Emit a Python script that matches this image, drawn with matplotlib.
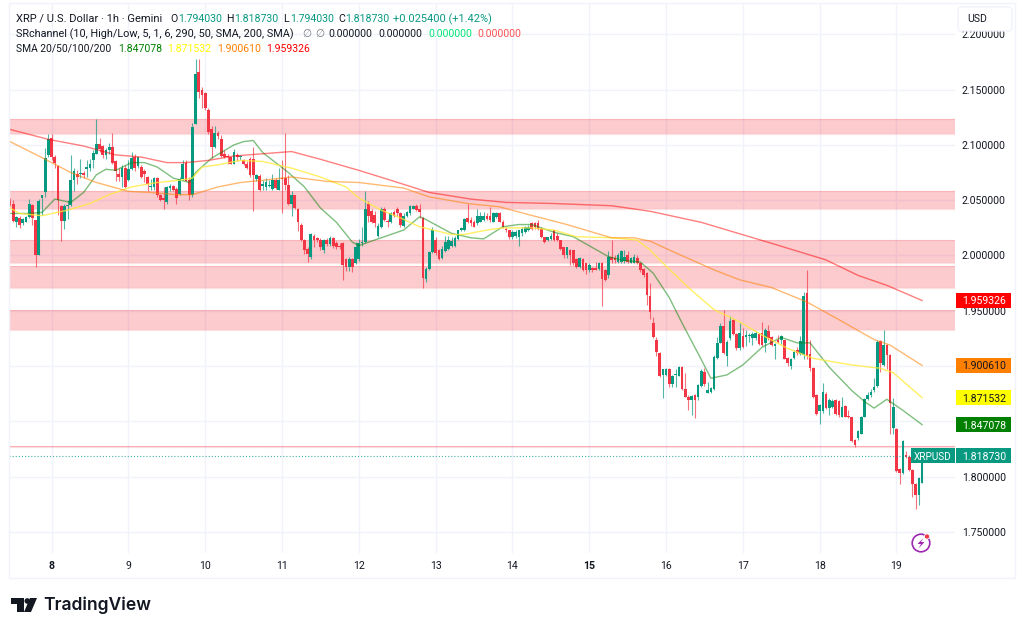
import numpy as np
import matplotlib
matplotlib.use("Agg")
import matplotlib.pyplot as plt
from matplotlib.patches import Rectangle, Circle, Polygon, FancyBboxPatch
from matplotlib.transforms import blended_transform_factory

plt.rcParams['font.family'] = ['Roboto', 'DejaVu Sans']

# hourly candles
opens = [
    2.049,2.047,2.030,2.034,2.029,2.030,2.035,2.046,2.032,2.000,
    2.052,2.057,2.091,2.106,2.089,2.081,2.045,2.031,2.045,2.046,
    2.068,2.074,2.074,2.075,2.078,2.079,2.086,2.092,2.101,2.099,
    2.091,2.095,2.098,2.085,2.074,2.071,2.079,2.068,2.078,2.089,
    2.081,2.080,2.076,2.071,2.062,2.062,2.070,2.055,2.052,2.048,
    2.061,2.063,2.060,2.056,2.069,2.084,2.068,2.055,2.119,2.166,
    2.150,2.147,2.132,2.114,2.098,2.111,2.105,2.092,2.090,2.089,
    2.083,2.091,2.089,2.086,2.083,2.087,2.087,2.069,2.072,2.063,
    2.062,2.063,2.060,2.068,2.059,2.070,2.070,2.064,2.047,2.055,
    2.042,2.028,2.014,2.006,1.999,2.018,2.016,2.014,2.005,2.014,
    2.010,2.016,2.011,2.009,2.011,1.997,1.990,1.997,1.993,1.997,
    2.011,2.012,2.047,2.040,2.037,2.018,2.026,2.042,2.031,2.030,
    2.039,2.042,2.038,2.027,2.036,2.038,2.042,2.045,2.042,2.034,
    1.979,1.988,2.003,2.014,2.005,1.998,2.004,2.006,2.009,2.009,
    2.015,2.023,2.023,2.034,2.032,2.030,2.029,2.030,2.032,2.036,
    2.036,2.030,2.035,2.038,2.030,2.024,2.023,2.017,2.018,2.017,
    2.020,2.021,2.023,2.029,2.029,2.029,2.024,2.017,2.014,2.015,
    2.023,2.018,2.014,2.008,2.000,2.005,2.005,1.997,1.990,1.997,
    1.993,1.987,1.989,1.989,1.988,1.993,1.987,1.982,1.999,1.998,
    1.994,1.994,1.995,2.000,1.993,1.993,1.998,1.993,1.988,1.984,
    1.963,1.939,1.924,1.912,1.892,1.892,1.897,1.884,1.892,1.891,
    1.899,1.879,1.872,1.869,1.874,1.872,1.882,1.895,1.876,1.877,
    1.879,1.907,1.921,1.936,1.909,1.925,1.942,1.929,1.916,1.927,
    1.926,1.927,1.925,1.925,1.929,1.930,1.921,1.932,1.926,1.918,
    1.924,1.924,1.924,1.907,1.900,1.907,1.915,1.911,1.910,1.966,
    1.911,1.898,1.874,1.859,1.859,1.875,1.862,1.863,1.869,1.868,
    1.854,1.864,1.855,1.854,1.833,1.835,1.839,1.854,1.870,1.874,
    1.878,1.882,1.923,1.901,1.919,1.910,1.844,1.843,1.807,1.803,
    1.820,1.818,1.806,1.793,1.783,1.79403]
closes = [
    2.046,2.031,2.035,2.028,2.033,2.035,2.047,2.034,2.000,2.049,
    2.055,2.088,2.105,2.089,2.084,2.050,2.031,2.045,2.046,2.068,
    2.076,2.071,2.074,2.073,2.080,2.083,2.093,2.101,2.096,2.091,
    2.095,2.098,2.084,2.076,2.071,2.079,2.062,2.078,2.088,2.079,
    2.089,2.071,2.074,2.065,2.062,2.070,2.055,2.050,2.050,2.062,
    2.063,2.059,2.052,2.069,2.083,2.067,2.055,2.116,2.164,2.148,
    2.145,2.133,2.112,2.098,2.111,2.108,2.090,2.089,2.089,2.083,
    2.094,2.089,2.089,2.083,2.079,2.073,2.073,2.073,2.059,2.065,
    2.066,2.064,2.068,2.061,2.068,2.069,2.064,2.047,2.055,2.043,
    2.030,2.014,2.005,2.001,2.019,2.014,2.014,2.008,2.014,2.010,
    2.016,2.009,2.008,2.008,1.991,1.990,1.997,1.990,2.008,2.011,
    2.012,2.042,2.036,2.030,2.029,2.027,2.042,2.032,2.030,2.038,
    2.036,2.038,2.028,2.036,2.039,2.045,2.045,2.041,2.039,1.980,
    1.988,2.003,2.023,2.002,1.997,2.006,2.012,2.014,2.013,2.016,
    2.023,2.025,2.033,2.030,2.029,2.026,2.036,2.036,2.036,2.033,
    2.032,2.038,2.038,2.030,2.026,2.023,2.017,2.021,2.021,2.023,
    2.024,2.026,2.026,2.024,2.026,2.024,2.017,2.012,2.017,2.018,
    2.014,2.014,2.006,2.000,2.008,2.000,1.993,1.990,1.998,1.987,
    1.987,1.991,1.987,1.987,1.993,1.979,1.978,1.999,1.996,1.996,
    2.000,2.004,1.999,1.994,1.998,1.999,1.993,1.987,1.982,1.964,
    1.949,1.926,1.913,1.891,1.897,1.897,1.884,1.891,1.892,1.899,
    1.879,1.872,1.869,1.873,1.869,1.883,1.896,1.884,1.878,1.880,
    1.908,1.921,1.936,1.912,1.922,1.941,1.929,1.916,1.930,1.917,
    1.928,1.927,1.929,1.930,1.920,1.919,1.933,1.925,1.919,1.920,
    1.922,1.927,1.906,1.903,1.906,1.913,1.912,1.923,1.963,1.909,
    1.898,1.872,1.857,1.865,1.877,1.862,1.869,1.868,1.857,1.856,
    1.863,1.854,1.854,1.832,1.829,1.841,1.854,1.870,1.874,1.877,
    1.881,1.922,1.903,1.919,1.910,1.867,1.863,1.805,1.803,1.832,
    1.818,1.806,1.793,1.783,1.799,1.81873]
highs = [
    2.052,2.050,2.036,2.036,2.034,2.036,2.051,2.047,2.032,2.051,
    2.055,2.097,2.110,2.110,2.091,2.082,2.046,2.047,2.050,2.091,
    2.079,2.077,2.087,2.076,2.086,2.087,2.095,2.123,2.106,2.100,
    2.097,2.102,2.111,2.086,2.079,2.082,2.082,2.086,2.094,2.092,
    2.089,2.082,2.078,2.072,2.069,2.071,2.071,2.056,2.062,2.063,
    2.065,2.064,2.062,2.071,2.086,2.086,2.071,2.120,2.178,2.178,
    2.152,2.148,2.133,2.117,2.117,2.113,2.109,2.095,2.092,2.089,
    2.096,2.093,2.091,2.087,2.085,2.089,2.098,2.074,2.074,2.068,
    2.070,2.068,2.074,2.070,2.079,2.086,2.111,2.073,2.058,2.055,
    2.043,2.029,2.015,2.008,2.020,2.019,2.017,2.016,2.015,2.016,
    2.018,2.017,2.013,2.011,2.012,1.998,1.999,1.998,2.012,2.015,
    2.026,2.058,2.049,2.042,2.040,2.029,2.044,2.044,2.033,2.039,
    2.041,2.044,2.039,2.038,2.040,2.046,2.046,2.047,2.047,2.035,
    1.990,2.004,2.026,2.017,2.006,2.009,2.018,2.018,2.017,2.018,
    2.023,2.026,2.034,2.047,2.035,2.032,2.042,2.039,2.039,2.038,
    2.044,2.039,2.039,2.039,2.032,2.026,2.023,2.023,2.023,2.023,
    2.026,2.027,2.028,2.030,2.030,2.032,2.026,2.017,2.017,2.020,
    2.023,2.020,2.014,2.008,2.008,2.006,2.005,1.998,1.999,1.998,
    1.993,1.993,1.990,1.994,1.994,1.994,1.988,2.004,2.014,2.000,
    2.002,2.005,2.005,2.004,1.999,2.001,2.000,1.994,1.989,1.985,
    1.975,1.944,1.926,1.913,1.897,1.898,1.898,1.892,1.897,1.900,
    1.900,1.894,1.874,1.874,1.875,1.884,1.897,1.898,1.886,1.881,
    1.910,1.926,1.939,1.951,1.924,1.945,1.943,1.930,1.939,1.934,
    1.933,1.930,1.931,1.932,1.930,1.940,1.934,1.937,1.927,1.921,
    1.928,1.928,1.924,1.908,1.907,1.915,1.917,1.927,1.967,1.987,
    1.924,1.899,1.875,1.866,1.885,1.877,1.871,1.870,1.870,1.869,
    1.872,1.865,1.860,1.854,1.834,1.842,1.855,1.871,1.877,1.879,
    1.889,1.924,1.924,1.933,1.920,1.911,1.871,1.844,1.808,1.833,
    1.823,1.820,1.807,1.794,1.800,1.81873]
lows = [
    2.045,2.030,2.026,2.025,2.028,2.030,2.034,2.028,1.990,2.000,
    2.037,2.053,2.089,2.086,2.079,2.037,2.013,2.024,2.033,2.045,
    2.058,2.065,2.070,2.070,2.071,2.076,2.079,2.092,2.094,2.088,
    2.087,2.092,2.083,2.067,2.067,2.062,2.061,2.067,2.077,2.076,
    2.079,2.070,2.066,2.058,2.059,2.059,2.053,2.049,2.042,2.047,
    2.058,2.058,2.047,2.055,2.068,2.067,2.050,2.053,2.119,2.142,
    2.133,2.132,2.110,2.088,2.097,2.105,2.089,2.088,2.083,2.083,
    2.083,2.085,2.086,2.082,2.078,2.071,2.040,2.067,2.058,2.059,
    2.059,2.062,2.059,2.060,2.059,2.038,2.059,2.046,2.036,2.042,
    2.022,2.013,2.001,1.994,1.997,2.008,2.012,2.005,2.002,2.009,
    2.009,2.007,2.006,2.006,1.978,1.986,1.986,1.985,1.992,1.995,
    2.009,2.011,2.030,2.029,2.026,2.017,2.025,2.031,2.026,2.029,
    2.035,2.036,2.026,2.026,2.035,2.037,2.042,2.040,2.034,1.971,
    1.976,1.987,2.002,2.000,1.996,1.997,2.003,2.005,2.008,2.008,
    2.014,2.022,2.022,2.029,2.027,2.026,2.028,2.030,2.031,2.032,
    2.030,2.030,2.034,2.030,2.025,2.021,2.015,2.015,2.016,2.009,
    2.018,2.020,2.022,2.023,2.024,2.023,2.016,2.011,2.013,2.014,
    2.013,2.013,2.005,1.998,1.998,1.991,1.991,1.989,1.989,1.986,
    1.983,1.985,1.985,1.987,1.987,1.954,1.977,1.980,1.993,1.993,
    1.993,1.993,1.993,1.993,1.993,1.993,1.992,1.985,1.981,1.955,
    1.943,1.925,1.909,1.890,1.871,1.891,1.881,1.881,1.881,1.891,
    1.878,1.872,1.860,1.856,1.853,1.869,1.881,1.882,1.876,1.876,
    1.878,1.906,1.921,1.911,1.900,1.924,1.928,1.915,1.915,1.916,
    1.918,1.922,1.919,1.924,1.919,1.918,1.913,1.924,1.918,1.906,
    1.921,1.920,1.906,1.900,1.897,1.906,1.910,1.910,1.906,1.906,
    1.896,1.871,1.856,1.848,1.858,1.861,1.856,1.862,1.856,1.854,
    1.854,1.854,1.853,1.831,1.827,1.833,1.839,1.854,1.869,1.872,
    1.877,1.881,1.895,1.900,1.897,1.839,1.839,1.804,1.793,1.802,
    1.817,1.805,1.782,1.771,1.774,1.79403]

# moving averages: (hour index, price) read at the visible bends
sma20_x = [0,6,10,14,19,23,27,30,33,38,42,46,51,56,58,63,70,73,76,79,87,92,97,102,107,109,114,123,128,129,138,144,148,154,159,163,170,176,187,191,197,201,206,210,216,219,224,229,235,241,246,250,256,263,267,270,274,279,285]
sma20_y = [2.038,2.038,2.039,2.051,2.048,2.057,2.073,2.078,2.077,2.084,2.084,2.080,2.070,2.066,2.075,2.088,2.100,2.103,2.104,2.093,2.075,2.062,2.043,2.030,2.012,2.009,2.014,2.023,2.035,2.034,2.020,2.016,2.015,2.026,2.028,2.028,2.021,2.017,1.999,1.996,1.994,1.984,1.962,1.939,1.906,1.889,1.892,1.901,1.917,1.926,1.921,1.921,1.899,1.878,1.868,1.862,1.870,1.860,1.847078]
sma50_x = [0,3,10,18,25,31,38,46,53,57,60,65,72,79,88,97,105,109,116,122,128,138,142,149,154,163,170,177,188,196,200,203,212,220,228,235,243,251,263,272,276,285]
sma50_y = [2.043,2.038,2.036,2.041,2.047,2.055,2.062,2.066,2.068,2.070,2.080,2.082,2.086,2.085,2.079,2.071,2.062,2.052,2.041,2.034,2.026,2.019,2.019,2.023,2.025,2.025,2.023,2.017,2.016,2.014,2.005,1.996,1.971,1.951,1.940,1.928,1.916,1.907,1.901,1.898,1.894,1.871532]
sma100_x = [0,11,19,27,37,44,52,57,65,72,79,88,99,109,123,131,143,153,162,174,188,195,200,206,213,220,228,238,249,259,270,275,285]
sma100_y = [2.103,2.087,2.075,2.066,2.058,2.057,2.055,2.055,2.062,2.066,2.068,2.071,2.067,2.066,2.061,2.053,2.047,2.044,2.037,2.028,2.016,2.016,2.013,2.005,1.996,1.987,1.978,1.971,1.958,1.942,1.924,1.919,1.900610]
sma200_x = [0,12,23,33,41,49,55,62,70,79,88,97,109,119,131,144,155,170,188,200,216,238,255,265,274,285]
sma200_y = [2.114,2.105,2.099,2.091,2.089,2.084,2.084,2.086,2.090,2.092,2.094,2.087,2.077,2.068,2.057,2.051,2.048,2.047,2.045,2.040,2.030,2.011,1.996,1.982,1.973,1.959326]

# support / resistance bands (high, low)
band_tops = [2.1235, 2.0586, 2.0137, 1.9908, 1.9507, 1.8278]
band_bottoms = [2.1100, 2.0418, 1.9935, 1.9703, 1.9326, 1.8265]

price_ticks = [2.2, 2.15, 2.1, 2.05, 2.0, 1.95, 1.9, 1.85, 1.8, 1.75]
hidden_ticks = [1.9, 1.85]
day_ticks = [13, 37, 61, 85, 109, 133, 157, 181, 205, 229, 253, 277]
day_labels = ['8', '9', '10', '11', '12', '13', '14', '15', '16', '17', '18', '19']

opens, closes, highs, lows = map(np.array, (opens, closes, highs, lows))
hours = np.arange(len(closes))

UP = '#089981'
DOWN = '#F23645'
GRID = '#f0f3fa'
TEXT = '#131722'
FS = 7.6
W, H = 1024, 632
LEFT, RIGHT, TOP, BOTTOM = 9, 955, 3, 553

fig = plt.figure(figsize=(W / 100, H / 100), dpi=100, facecolor='white')
ax = fig.add_axes([LEFT / W, 1 - BOTTOM / H, (RIGHT - LEFT) / W, (BOTTOM - TOP) / H])
ax.set_xlim(-0.31, 295.3)
ax.set_ylim(1.7310, 2.2283)
for s in ax.spines.values():
    s.set_visible(False)

ax.set_axisbelow(True)
ax.grid(True, color=GRID, lw=1)
ax.yaxis.tick_right()
ax.set_yticks(price_ticks)
ax.set_yticklabels(['' if t in hidden_ticks else f'{t:.6f}' for t in price_ticks])
ax.set_xticks(day_ticks)
ax.set_xticklabels(day_labels)
ax.tick_params(axis='y', length=0, pad=5, labelsize=FS, labelcolor=TEXT)
ax.tick_params(axis='x', length=0, pad=6, labelsize=FS, labelcolor=TEXT)
for lab in ax.get_xticklabels():
    if lab.get_text() in ('8', '15'):
        lab.set_fontweight('bold')

for top, bottom in zip(band_tops, band_bottoms):
    ax.axhspan(bottom, top, facecolor=DOWN, alpha=0.26, lw=0, zorder=1)
    ax.axhline(top, color=DOWN, alpha=0.15, lw=0.9, zorder=1)
    ax.axhline(bottom, color=DOWN, alpha=0.15, lw=0.9, zorder=1)

# candles
up = closes >= opens
ax.vlines(hours[up], lows[up], highs[up], color=UP, lw=0.8, alpha=0.7, zorder=2)
ax.vlines(hours[~up], lows[~up], highs[~up], color=DOWN, lw=0.8, alpha=0.7, zorder=2)
body_bottom = np.minimum(opens, closes)
body_height = np.maximum(np.abs(closes - opens), 0.001)
ax.bar(hours, body_height, bottom=body_bottom, width=0.82, lw=0,
       color=np.where(up, UP, DOWN), zorder=3)

ax.plot(sma20_x, sma20_y, color='#008000', alpha=0.5, lw=1, zorder=4)
ax.plot(sma50_x, sma50_y, color='#FFEB3B', alpha=0.8, lw=1, zorder=4)
ax.plot(sma100_x, sma100_y, color='#FF8000', alpha=0.55, lw=1, zorder=4)
ax.plot(sma200_x, sma200_y, color='#FF0000', alpha=0.5, lw=1, zorder=4)

# last price line
ax.hlines(closes[-1], -0.31, 295.3, color=UP, lw=0.8, alpha=0.75,
          linestyles=(0, (1, 1.8)), zorder=4)

# coloured price tags on the scale
trans = blended_transform_factory(ax.transAxes, ax.transData)
tag_x0 = (956 - LEFT) / (RIGHT - LEFT)
tag_w = 55 / (RIGHT - LEFT)
tag_h = 15 / 1106
tags = [(sma200_y[-1], '#FF0000', 'white'), (sma100_y[-1], '#FF8000', TEXT),
        (sma50_y[-1], '#FFFF00', TEXT), (sma20_y[-1], '#008000', 'white'),
        (closes[-1], UP, 'white')]
for val, bg, fg in tags:
    ax.add_patch(Rectangle((tag_x0, val - tag_h / 2), tag_w, tag_h, transform=trans,
                           facecolor=bg, edgecolor='none', clip_on=False, zorder=6))
    ax.text((962.5 - LEFT) / (RIGHT - LEFT), val, f'{val:.6f}', transform=trans, color=fg,
            fontsize=FS, va='center_baseline', ha='left', zorder=7, clip_on=False)
ax.add_patch(Rectangle(((911 - LEFT) / (RIGHT - LEFT), closes[-1] - tag_h / 2), 44 / (RIGHT - LEFT), tag_h,
                       transform=trans, facecolor=UP, edgecolor='none', clip_on=False, zorder=6))
ax.text((933 - LEFT) / (RIGHT - LEFT), closes[-1], 'XRPUSD', transform=trans, color='white',
        fontsize=7.2, va='center_baseline', ha='center', zorder=7)

# overlay in pixel coordinates for header, logo and badges
ov = fig.add_axes([0, 0, 1, 1], zorder=10)
ov.set_xlim(0, W)
ov.set_ylim(H, 0)
ov.axis('off')
ov.patch.set_alpha(0)

ov.add_patch(Rectangle((9, 3), 1006, 575, fill=False, edgecolor=GRID, lw=1))
ov.add_patch(FancyBboxPatch((960, 9), 50, 20, boxstyle='round,pad=2,rounding_size=3',
                            facecolor='white', edgecolor=GRID, lw=1))
ov.text(967, 18.5, 'USD', fontsize=FS, color=TEXT, va='center')

hdr = [
    (16, 18, 'XRP / U.S. Dollar · 1h · Gemini', TEXT, 8.0),
    (170, 18, 'O', TEXT, FS), (178, 18, '1.794030', UP, FS),
    (226, 18, 'H', TEXT, FS), (234, 18, '1.818730', UP, FS),
    (283, 18, 'L', TEXT, FS), (290, 18, '1.794030', UP, FS),
    (338, 18, 'C', TEXT, FS), (345, 18, '1.818730', UP, FS),
    (393, 18, '+0.025400 (+1.42%)', UP, 7.9),
    (16, 33, 'SRchannel (10, High/Low, 5, 1, 6, 290, 50, SMA, 200, SMA)', TEXT, 7.85),
    (302, 33, '∅', '#787b86', FS), (315, 33, '∅', '#787b86', FS),
    (328, 33, '0.000000', TEXT, FS), (378, 33, '0.000000', TEXT, FS),
    (428, 33, '0.000000', '#00E676', FS), (477, 33, '0.000000', '#FF5252', FS),
    (16, 48, 'SMA 20/50/100/200', TEXT, 7.4),
    (118, 48, '1.847078', '#008000', FS), (167, 48, '1.871532', '#FFFF00', FS),
    (217, 48, '1.900610', '#FF8000', FS), (266, 48, '1.959326', '#FF0000', FS),
]
for x, y, s, c, fs in hdr:
    ov.text(x, y, s, fontsize=fs, color=c, va='center_baseline', ha='left')

# TradingView logo
ov.add_patch(Polygon([(10.7, 598), (24, 598), (24, 612), (16.7, 612), (16.7, 604), (10.7, 604)],
                     facecolor=TEXT, edgecolor='none'))
ov.add_patch(Circle((27.3, 601), 2.8, facecolor=TEXT, edgecolor='none'))
ov.add_patch(Polygon([(37, 598), (31, 612), (24, 612), (30, 598)], facecolor=TEXT, edgecolor='none'))
ov.text(43.5, 605.5, 'TradingView', fontsize=12.6, fontweight='semibold', family='Inter',
        color=TEXT, va='center', ha='left')

# lightning badge
ov.add_patch(Circle((921, 543), 8.8, fill=False, edgecolor='#9C27B0', lw=1.2))
ov.add_patch(Polygon([(923.5, 538), (917.5, 544), (921, 544), (918.5, 548.5), (924.5, 542), (921, 542)],
                     facecolor='#9C27B0', edgecolor='none'))
ov.add_patch(Circle((927, 536.5), 2.6, facecolor='#F23645', edgecolor='white', lw=0.6))

fig.savefig('out.png', dpi=100)
